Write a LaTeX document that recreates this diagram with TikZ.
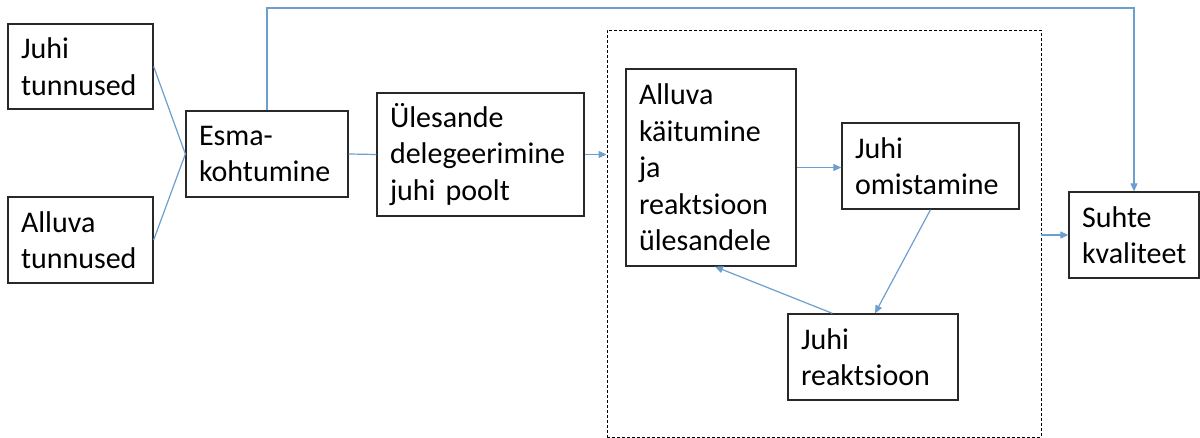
\documentclass[tikz,border=0pt]{standalone}
\usepackage{fontspec}
\setmainfont{Carlito}
\usetikzlibrary{arrows.meta,calc}
\definecolor{linkblue}{RGB}{108,158,206}
\definecolor{boxline}{RGB}{40,40,40}
\begin{document}
\begin{tikzpicture}[x=1pt,y=-1pt,
  box/.style={draw=boxline,line width=1.3pt,rectangle,inner xsep=13pt,inner ysep=0pt,
    align=left,font=\fontsize{30}{36.5}\selectfont},
  grpbox/.style={draw=black,line width=0.9pt,dash pattern=on 3pt off 2pt,rectangle,inner sep=0pt},
  conn/.style={draw=linkblue,line width=1.2pt},
  arr/.style={conn,-{Triangle[length=8pt,width=7pt]}}]
\useasboundingbox (0,0) rectangle (1200,438);

% participants and first meeting
\node[box,text width=119pt,minimum height=85pt] (A) at (80.5,66.5) {Juhi\\tunnused};
\node[box,text width=119pt,minimum height=86pt] (B) at (80.5,240) {Alluva\\tunnused};
\node[box,text width=136pt,minimum height=86pt] (C) at (267,154) {Esma-\\kohtumine};
\node[box,text width=181pt,minimum height=123pt] (D) at (480.5,154.5) {Ülesande\\delegeerimine\\juhi poolt};

% interaction loop
\node[grpbox,minimum width=434pt,minimum height=407pt] (grp) at (824,233.5) {};
\node[box,text width=144pt,minimum height=197pt] (E) at (711,167.5) {Alluva\\käitumine\\ja\\reaktsioon\\ülesandele};
\node[box,text width=151pt,minimum height=86pt] (F) at (930.5,166) {Juhi\\omistamine};
\node[box,text width=144pt,minimum height=86pt] (G) at (873,357) {Juhi\\reaktsioon};

% outcome
\node[box,text width=104pt,minimum height=86pt] (H) at (1134,235) {Suhte\\kvaliteet};

\coordinate (topline) at (700,8);

\draw[conn] (A.east) -- (C.west);
\draw[conn] (B.east) -- (C.west);
\draw[conn] (C.east) -- (D.west);
\draw[arr] (C.north) |- (topline) -| (H.north);
\draw[arr] (D.east) -- (D.east -| grp.west);
\draw[arr] (E.east) -- (E.east -| F.west);
\draw[arr] (F.south) -- ([xshift=2pt]G.north);
\draw[arr] ([xshift=45pt]G.north west) -- ([xshift=4pt]E.south);
\draw[arr] (grp.east |- H.west) -- (H.west);
\end{tikzpicture}
\end{document}
